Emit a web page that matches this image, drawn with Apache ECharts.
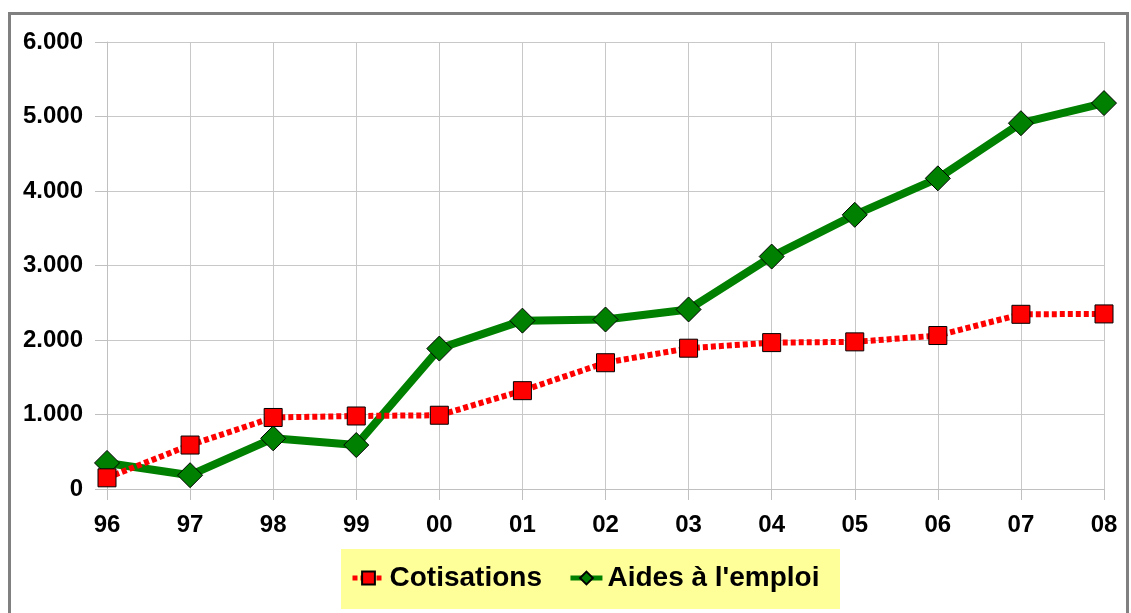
<!DOCTYPE html>
<html>
<head>
<meta charset="utf-8">
<script src="https://cdn.jsdelivr.net/npm/echarts@6/dist/echarts.min.js"></script>
<style>
  html, body { margin: 0; padding: 0; background: #fff; }
  #main { width: 1131px; height: 613px; }
</style>
</head>
<body>
<div id="main"></div>
<script>
// années (axe X)
const years = ["96", "97", "98", "99", "00", "01", "02", "03", "04", "05", "06", "07", "08"]
// séries
const cotisations = [150, 590, 960, 980, 990, 1320, 1695, 1890, 1965, 1975, 2060, 2345, 2350]
const aidesEmploi = [350, 185, 680, 590, 1885, 2260, 2275, 2410, 3120, 3680, 4170, 4910, 5180]

const chart = echarts.init(document.getElementById("main"))

// séparateur de milliers à la française : 6.000
const fmt = (v) => v === 0 ? "0" : (v / 1000).toFixed(3)

chart.setOption({
  animation: false,
  textStyle: { fontFamily: "Liberation Sans, Arial, sans-serif" },
  graphic: [
    {
      // cadre gris
      type: "rect",
      shape: { x: 9.5, y: 13.5, width: 1118, height: 620 },
      style: { fill: "none", stroke: "#808080", lineWidth: 3 },
      z: 0
    },
    {
      // fond jaune de la légende
      type: "rect",
      shape: { x: 341, y: 549, width: 499, height: 60 },
      style: { fill: "#ffff99" },
      z: 0
    }
  ],
  grid: { left: 107, right: 27, top: 42, bottom: 124 },
  legend: {
    left: 350,
    top: 564,
    padding: 0,
    itemWidth: 32,
    itemHeight: 16,
    itemGap: 26,
    lineStyle: { width: 5 },
    textStyle: { fontSize: 28, fontWeight: "bold", color: "#000" },
    data: ["Cotisations", "Aides à l'emploi"]
  },
  xAxis: {
    type: "category",
    data: years,
    boundaryGap: false,
    axisLine: { lineStyle: { color: "#c0c0c0", width: 1 } },
    axisTick: { show: true, length: 11, alignWithLabel: true, lineStyle: { color: "#c0c0c0" } },
    splitLine: { show: true, lineStyle: { color: "#c8c8c8" } },
    axisLabel: { fontSize: 24, fontWeight: "bold", color: "#000", margin: 24 }
  },
  yAxis: {
    type: "value",
    min: 0,
    max: 6000,
    interval: 1000,
    axisLine: { show: true, lineStyle: { color: "#c0c0c0" } },
    axisTick: { show: true, length: 12, lineStyle: { color: "#c0c0c0" } },
    splitLine: { lineStyle: { color: "#c8c8c8" } },
    axisLabel: { fontSize: 24, fontWeight: "bold", color: "#000", margin: 24, formatter: fmt }
  },
  series: [
    {
      name: "Cotisations",
      type: "line",
      data: cotisations,
      symbol: "rect",
      symbolSize: 18,
      z: 3,
      lineStyle: { color: "#ff0000", width: 6, type: [5, 3] },
      itemStyle: { color: "#ff0000", borderColor: "#000", borderWidth: 1 }
    },
    {
      name: "Aides à l'emploi",
      type: "line",
      data: aidesEmploi,
      symbol: "diamond",
      symbolSize: 25,
      z: 2,
      lineStyle: { color: "#008000", width: 8 },
      itemStyle: { color: "#008000", borderColor: "#000", borderWidth: 1 }
    }
  ]
})
</script>
</body>
</html>
